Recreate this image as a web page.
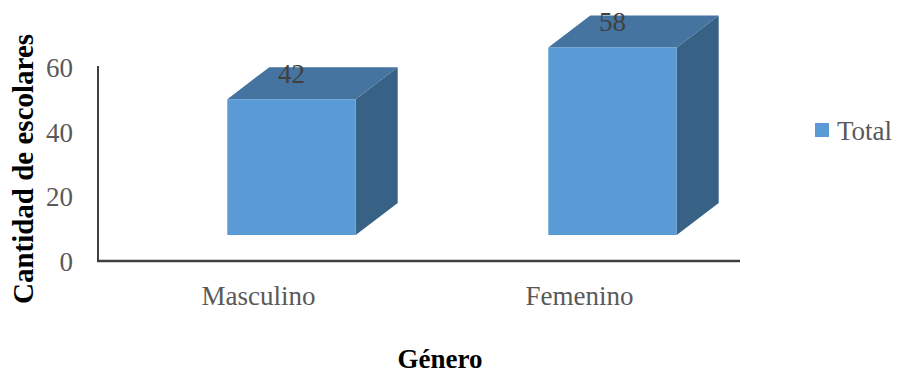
<!DOCTYPE html>
<html>
<head>
<meta charset="utf-8">
<script src="https://cdn.jsdelivr.net/npm/d3@7"></script>
<style>
  body { margin: 0; background: #fff; }
  text { font-family: "Liberation Serif", "Times New Roman", serif; }
</style>
</head>
<body>
<div id="chart"></div>
<script>
// data
const categories = ['Masculino', 'Femenino'];
const totals = [42, 58];
const yTicks = [0, 20, 40, 60];
const seriesName = 'Total';

const width = 901;
const height = 380;

// 3D offsets of the bars
const depthX = 42;
const depthY = -32;
const lift = 26;

const svg = d3
    .select('#chart')
    .append('svg')
    .attr('width', width)
    .attr('height', height);

const x = d3
    .scaleBand()
    .domain(categories)
    .range([98, 740]);

const y = d3
    .scaleLinear()
    .domain([0, 60])
    .range([261, 67]);

// axis lines
svg.append('line')
    .attr('x1', 98).attr('x2', 98)
    .attr('y1', y(60) - 1).attr('y2', y(0))
    .attr('stroke', '#404040')
    .attr('stroke-width', 2);

svg.append('line')
    .attr('x1', 97).attr('x2', 740)
    .attr('y1', y(0)).attr('y2', y(0))
    .attr('stroke', '#404040')
    .attr('stroke-width', 2.5);

// y tick labels
svg.selectAll('.ytick')
    .data(yTicks)
    .enter()
    .append('text')
    .attr('class', 'ytick')
    .attr('x', 73)
    .attr('y', (d) => y(d) + 10)
    .attr('text-anchor', 'end')
    .attr('font-size', 27)
    .attr('fill', '#595959')
    .text((d) => d);

// x category labels
svg.selectAll('.xtick')
    .data(categories)
    .enter()
    .append('text')
    .attr('class', 'xtick')
    .attr('x', (d) => x(d) + x.bandwidth() / 2)
    .attr('y', 305)
    .attr('text-anchor', 'middle')
    .attr('font-size', 27)
    .attr('fill', '#595959')
    .text((d) => d);

// bars
const barW = x.bandwidth() * 0.4;
const frontLeft = (c) => x(c) + x.bandwidth() / 2 + 33 - barW / 2;

const bars = svg.selectAll('.bar')
    .data(categories.map((c, i) => ({ cat: c, value: totals[i] })))
    .enter()
    .append('g')
    .attr('class', 'bar');

// side face
bars.append('path')
    .attr('fill', '#386186')
    .attr('d', (d) => {
        const x0 = frontLeft(d.cat) + barW;
        const yt = y(d.value) - lift;
        const yb = y(0) - lift;
        return `M${x0},${yt}L${x0 + depthX},${yt + depthY}L${x0 + depthX},${yb + depthY}L${x0},${yb}Z`;
    });

// top face
bars.append('path')
    .attr('fill', '#44749f')
    .attr('d', (d) => {
        const x0 = frontLeft(d.cat);
        const yt = y(d.value) - lift;
        return `M${x0},${yt}L${x0 + depthX},${yt + depthY}L${x0 + barW + depthX},${yt + depthY}L${x0 + barW},${yt}Z`;
    });

// front face
bars.append('rect')
    .attr('x', (d) => frontLeft(d.cat))
    .attr('y', (d) => y(d.value) - lift)
    .attr('width', barW)
    .attr('height', (d) => y(0) - y(d.value))
    .attr('fill', '#5b9bd5');

// value labels
bars.append('text')
    .attr('x', (d) => frontLeft(d.cat) + barW / 2)
    .attr('y', (d) => y(d.value) - lift - 16)
    .attr('text-anchor', 'middle')
    .attr('font-size', 27)
    .attr('fill', '#404040')
    .text((d) => d.value);

// axis titles
svg.append('text')
    .attr('transform', 'rotate(-90)')
    .attr('x', -169)
    .attr('y', 33)
    .attr('text-anchor', 'middle')
    .attr('font-size', 29)
    .attr('font-weight', 'bold')
    .attr('fill', '#000')
    .text('Cantidad de escolares');

svg.append('text')
    .attr('x', 440)
    .attr('y', 368)
    .attr('text-anchor', 'middle')
    .attr('font-size', 27)
    .attr('font-weight', 'bold')
    .attr('fill', '#000')
    .text('Género');

// legend
svg.append('rect')
    .attr('x', 815)
    .attr('y', 123)
    .attr('width', 14)
    .attr('height', 14)
    .attr('fill', '#5b9bd5');

svg.append('text')
    .attr('x', 837)
    .attr('y', 140)
    .attr('font-size', 27)
    .attr('fill', '#595959')
    .text(seriesName);
</script>
</body>
</html>
